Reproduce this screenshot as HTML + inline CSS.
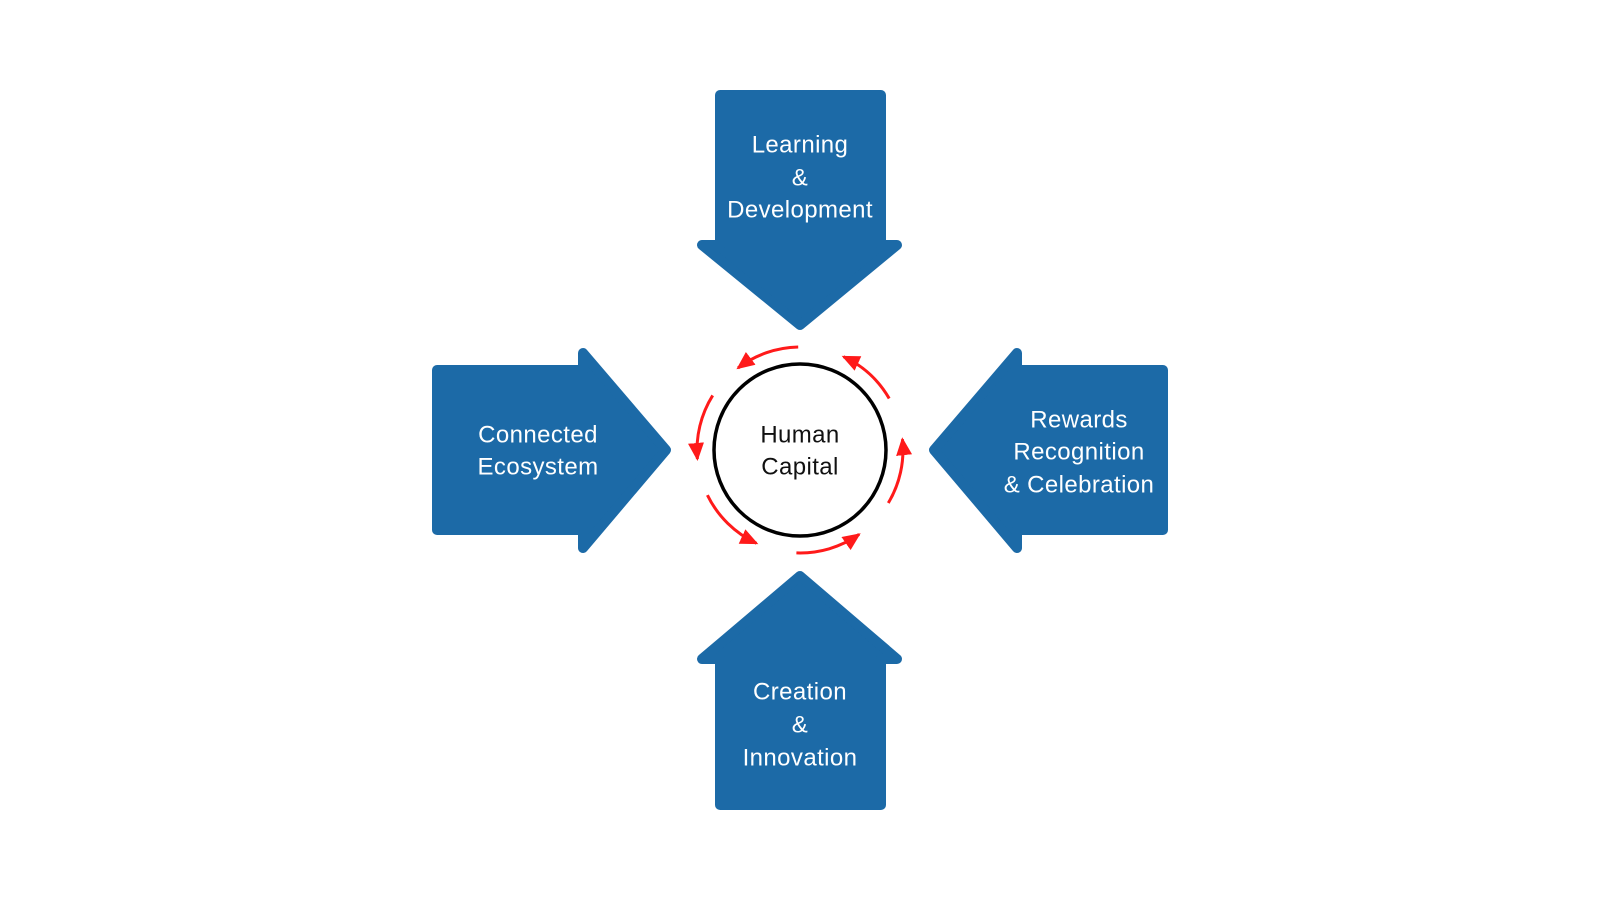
<!DOCTYPE html>
<html><head><meta charset="utf-8"><style>
html,body{margin:0;padding:0;background:#fff;}
svg{display:block;}
text{font-family:"Liberation Sans",sans-serif;font-size:24px;letter-spacing:0.4px;text-anchor:middle;dominant-baseline:central;}
.w{fill:#fff;}
</style></head><body>
<svg width="1600" height="900" viewBox="0 0 1600 900">
<defs>
<marker id="ah" markerUnits="userSpaceOnUse" markerWidth="20" markerHeight="18" refX="16" refY="8" orient="auto">
<path d="M0,0 L18,8 L0,16 z" fill="#ff1a1a"/>
</marker>
</defs>
<g fill="#1c6aa7" stroke="#1c6aa7" stroke-width="10" stroke-linejoin="round">
<polygon points="720,95 881,95 881,245 897,245 800,325 702,245 720,245"/>
<polygon points="720,805 881,805 881,659 897,659 800,576 702,659 720,659"/>
<polygon points="437,370 583,370 583,353 666,450 583,548 583,530 437,530"/>
<polygon points="1163,370 1017,370 1017,353 934,450 1017,548 1017,530 1163,530"/>
</g>
<circle cx="800" cy="450" r="86" fill="#fff" stroke="#000" stroke-width="3.5"/>
<g fill="none" stroke="#ff1a1a" stroke-width="3" marker-end="url(#ah)">
<path d="M798.2,347 A103,103 0 0 0 738,368"/>
<path d="M712.7,395.4 A103,103 0 0 0 697.4,459"/>
<path d="M707.4,495.1 A103,103 0 0 0 756.5,543.3"/>
<path d="M796.4,552.9 A103,103 0 0 0 859.1,534.4"/>
<path d="M888.3,503 A103,103 0 0 0 902.4,439.2"/>
<path d="M889.2,398.5 A103,103 0 0 0 843.5,356.7"/>
</g>
<text class="w" x="800" y="145">Learning</text>
<text class="w" x="800" y="178">&amp;</text>
<text class="w" x="800" y="210">Development</text>
<text class="w" x="538" y="435">Connected</text>
<text class="w" x="538" y="467">Ecosystem</text>
<text class="w" x="1079" y="420">Rewards</text>
<text class="w" x="1079" y="452">Recognition</text>
<text class="w" x="1079" y="485">&amp; Celebration</text>
<text class="w" x="800" y="692">Creation</text>
<text class="w" x="800" y="725">&amp;</text>
<text class="w" x="800" y="758">Innovation</text>
<text x="800" y="435" fill="#111">Human</text>
<text x="800" y="467" fill="#111">Capital</text>
</svg>
</body></html>
